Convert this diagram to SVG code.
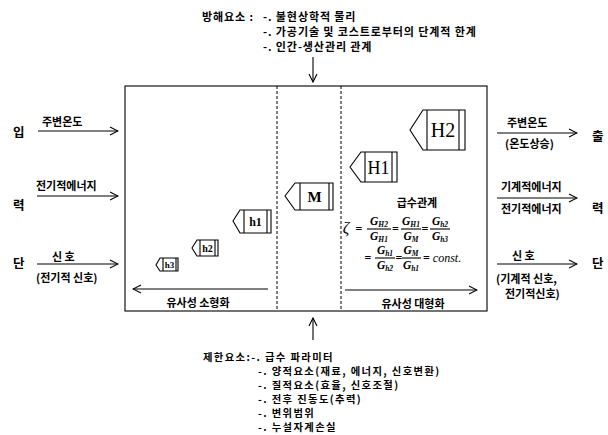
<svg xmlns="http://www.w3.org/2000/svg" width="608" height="435" viewBox="0 0 608 435">
<defs>
<marker id="ah" markerWidth="10" markerHeight="10" refX="9" refY="5" orient="auto" markerUnits="userSpaceOnUse">
<path d="M1,1 L9,5 L1,9" fill="none" stroke="#000" stroke-width="1.1"/>
</marker>
</defs>
<style>
.k{font-family:"Noto Sans CJK KR","Noto Sans",sans-serif;font-weight:700;font-size:11px;letter-spacing:0.9px;fill:#000}
.kk{font-family:"Noto Sans CJK KR","Noto Sans",sans-serif;font-weight:700;font-size:10.3px;letter-spacing:1.4px;fill:#000}
.kl{font-family:"Noto Sans CJK KR","Noto Sans",sans-serif;font-weight:700;font-size:11px;fill:#000}
.kb{font-family:"Noto Sans CJK KR","Noto Sans",sans-serif;font-weight:700;font-size:12.5px;fill:#000}
.ln{stroke:#000;stroke-width:1.1;fill:none}
.ar{stroke:#000;stroke-width:1.1;fill:none;marker-end:url(#ah)}
.dash{stroke:#000;stroke-width:1;stroke-dasharray:3,2;fill:none}
.mod{stroke:#000;stroke-width:1.1;fill:#fff}
.ms{font-family:"Liberation Serif",serif;fill:#000;text-anchor:middle}
.f{font-family:"Liberation Serif",serif;font-style:italic;font-weight:700;font-size:11.5px;fill:#000;text-anchor:middle}
.fe{font-family:"Liberation Serif",serif;font-weight:700;font-size:12px;fill:#000;text-anchor:middle}
.c{text-anchor:middle}
</style>

<g id="frame">
<rect x="125" y="86" width="362" height="225" class="ln" stroke-width="1.3"/>
<line x1="277" y1="86" x2="277" y2="311" class="dash"/>
<line x1="341" y1="86" x2="341" y2="311" class="dash"/>
</g>

<g id="top-text">
<text class="k" x="202" y="21">방해요소 : </text>
<text class="k" x="263" y="21">-. 불현상학적 물리</text>
<text class="k" x="263" y="36">-. 가공기술 및 코스트로부터의 단계적 한계</text>
<text class="k" x="263" y="51">-. 인간-생산관리 관계</text>
</g>

<g id="bottom-text">
<text class="kk" x="203" y="361" letter-spacing="0.8">제한요소:-. 급수 파라미터</text>
<text class="kk" x="258" y="375">-. 양적요소(재료, 에너지, 신호변환)</text>
<text class="kk" x="258" y="389">-. 질적요소(효율, 신호조절)</text>
<text class="kk" x="258" y="403">-. 전후 진동도(추력)</text>
<text class="kk" x="258" y="417">-. 변위범위</text>
<text class="kk" x="258" y="431">-. 누설자계손실</text>
</g>

<g id="input">
<text class="kb" x="13" y="137">입</text>
<text class="kb" x="13" y="210">력</text>
<text class="kb" x="13" y="268">단</text>
<text class="kl" x="42" y="126">주변온도</text>
<text class="kl" x="36" y="190">전기적에너지</text>
<text class="kl" x="52" y="261">신  호</text>
<text class="kl" x="36" y="282">(전기적 신호)</text>
</g>

<g id="output">
<text class="kb" x="592" y="141">출</text>
<text class="kb" x="592" y="213">력</text>
<text class="kb" x="592" y="268">단</text>
<text class="kl" x="507" y="127">주변온도</text>
<text class="kl" x="505" y="148">(온도상승)</text>
<text class="kl" x="501" y="191">기계적에너지</text>
<text class="kl" x="501" y="213">전기적에너지</text>
<text class="kl" x="512" y="260">신  호</text>
<text class="kl" x="496" y="283">(기계적 신호,</text>
<text class="kl" x="505" y="298">전기적신호)</text>
</g>

<g id="connectors">
<line x1="313" y1="57" x2="313" y2="82" class="ar"/>
<line x1="313" y1="340" x2="313" y2="318" class="ar"/>
<line x1="38" y1="131" x2="118" y2="131" class="ar"/>
<line x1="37" y1="196" x2="118" y2="196" class="ar"/>
<line x1="37" y1="264" x2="118" y2="264" class="ar"/>
<line x1="497" y1="133" x2="577" y2="133" class="ar"/>
<line x1="497" y1="198" x2="577" y2="198" class="ar"/>
<line x1="497" y1="264" x2="577" y2="264" class="ar"/>
<line x1="268" y1="289" x2="133" y2="289" class="ar"/>
<line x1="345" y1="290" x2="477" y2="290" class="ar"/>
</g>

<g id="scale-labels">
<text class="kl c" x="198" y="307">유사성 소형화</text>
<text class="kl c" x="413" y="308">유사성 대형화</text>
<text class="kl c" x="417" y="207">급수관계</text>
</g>

<g id="H2">
<polygon class="mod" points="410,130 423,110 465,110 465,150 423,150"/>
<line class="ln" x1="427" y1="110" x2="427" y2="150"/>
<line class="ln" x1="459" y1="110" x2="459" y2="150"/>
<text class="ms" x="443" y="137" font-size="20">H2</text>
</g>
<g id="H1">
<polygon class="mod" points="350,167 361,152 397,152 397,182 361,182"/>
<line class="ln" x1="365" y1="152" x2="365" y2="182"/>
<line class="ln" x1="392" y1="152" x2="392" y2="182"/>
<text class="ms" x="378.5" y="174" font-size="18">H1</text>
</g>
<g id="M">
<polygon class="mod" points="285,196 295,183 333,183 333,210 295,210"/>
<line class="ln" x1="300" y1="183" x2="300" y2="210"/>
<line class="ln" x1="329" y1="183" x2="329" y2="210"/>
<text class="ms" x="314.5" y="202" font-size="15" font-weight="700">M</text>
</g>
<g id="h1">
<polygon class="mod" points="233,221 240,210 271,210 271,233 240,233"/>
<line class="ln" x1="244" y1="210" x2="244" y2="233"/>
<line class="ln" x1="267" y1="210" x2="267" y2="233"/>
<text class="ms" x="255.5" y="225.5" font-size="12" font-weight="700">h1</text>
</g>
<g id="h2">
<polygon class="mod" points="192,248 197,240 218,240 218,256 197,256"/>
<line class="ln" x1="200" y1="240" x2="200" y2="256"/>
<line class="ln" x1="215" y1="240" x2="215" y2="256"/>
<text class="ms" x="207.5" y="251.5" font-size="10" font-weight="700">h2</text>
</g>
<g id="h3">
<polygon class="mod" points="156,265 160,258 178,258 178,271 160,271" stroke-width="1.6"/>
<line class="ln" x1="163" y1="258" x2="163" y2="271" stroke-width="1.4"/>
<line class="ln" x1="176" y1="258" x2="176" y2="271" stroke-width="1.4"/>
<text class="ms" x="169.5" y="268" font-size="9" font-weight="700">h3</text>
</g>

<g id="formula">
<text x="346" y="233" font-family="Liberation Serif,serif" font-style="italic" font-size="16" fill="#000" text-anchor="middle">ζ</text>
<text class="fe" x="359" y="233">=</text>
<text class="f" x="379" y="225">G<tspan font-size="7.5" dy="1.5">H2</tspan></text>
<line class="ln" x1="367" y1="229" x2="391" y2="229"/>
<text class="f" x="379" y="240">G<tspan font-size="7.5" dy="1.5">H1</tspan></text>
<text class="fe" x="395.5" y="233">=</text>
<text class="f" x="411" y="225">G<tspan font-size="7.5" dy="1.5">H1</tspan></text>
<line class="ln" x1="401" y1="229" x2="421" y2="229"/>
<text class="f" x="411" y="240">G<tspan font-size="7.5" dy="1.5">M</tspan></text>
<text class="fe" x="425" y="233">=</text>
<text class="f" x="440" y="225">G<tspan font-size="7.5" dy="1.5">h2</tspan></text>
<line class="ln" x1="430" y1="229" x2="450" y2="229"/>
<text class="f" x="440" y="240">G<tspan font-size="7.5" dy="1.5">h3</tspan></text>

<text class="fe" x="368" y="262">=</text>
<text class="f" x="385" y="254">G<tspan font-size="7.5" dy="1.5">h1</tspan></text>
<line class="ln" x1="375" y1="258" x2="395" y2="258"/>
<text class="f" x="385" y="269">G<tspan font-size="7.5" dy="1.5">h2</tspan></text>
<text class="fe" x="399" y="262">=</text>
<text class="f" x="411" y="254">G<tspan font-size="7.5" dy="1.5">M</tspan></text>
<line class="ln" x1="402" y1="258" x2="421" y2="258"/>
<text class="f" x="411" y="269">G<tspan font-size="7.5" dy="1.5">h1</tspan></text>
<text x="423" y="262" font-family="Liberation Serif,serif" font-size="12" fill="#000"><tspan font-weight="700">=</tspan> <tspan font-style="italic">const.</tspan></text>
</g>
</svg>
